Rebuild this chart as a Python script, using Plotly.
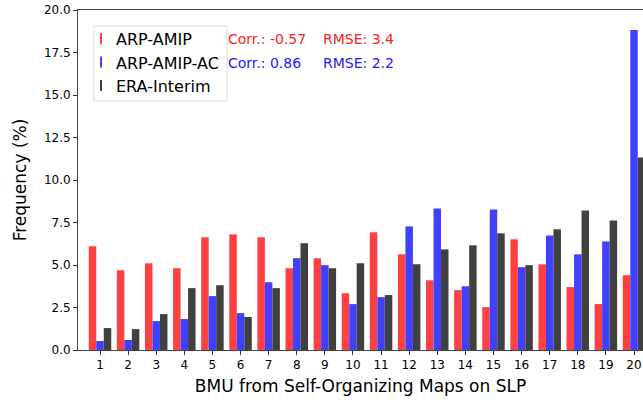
import plotly.graph_objects as go

categories = list(range(1, 21))
arp_amip = [6.1, 4.69, 5.1, 4.81, 6.63, 6.8, 6.63, 4.81, 5.4, 3.34,
            6.92, 5.63, 4.1, 3.52, 2.52, 6.51, 5.04, 3.7, 2.7, 4.4]
arp_amip_ac = [0.53, 0.59, 1.7, 1.82, 3.17, 2.17, 3.99, 5.4, 4.99, 2.7,
               3.11, 7.27, 8.33, 3.75, 8.27, 4.87, 6.74, 5.63, 6.39, 18.83]
era_interim = [1.29, 1.23, 2.11, 3.64, 3.81, 1.94, 3.64, 6.28, 4.81, 5.1,
               3.23, 5.04, 5.92, 6.16, 6.86, 4.99, 7.1, 8.21, 7.62, 11.32]
series_names = ["ARP-AMIP", "ARP-AMIP-AC", "ERA-Interim"]
series_values = [arp_amip, arp_amip_ac, era_interim]
colors = ["#ff4040", "#4040ff", "#404040"]
y_ticks = [0, 2.5, 5, 7.5, 10, 12.5, 15, 17.5, 20]
stats = [("Corr.: -0.57", "RMSE: 3.4", "#ff2020"),
         ("Corr.: 0.86", "RMSE: 2.2", "#2020ff")]

FONT = "DejaVu Sans"
L, R, T, B = 78, 643, 10, 350  # plot area in pixels
W, H = R - L, B - T


def px(x):
    return (x - L) / W


def py(y):
    return (B - y) / H


fig = go.Figure()
for name, vals, col in zip(series_names, series_values, colors):
    fig.add_trace(go.Bar(x=categories, y=vals, name=name, marker_color=col,
                         marker_line_width=0, showlegend=False))

fig.update_layout(
    width=643, height=400,
    margin=dict(l=L, r=643 - R, t=T, b=400 - B, autoexpand=False),
    plot_bgcolor="white", paper_bgcolor="white",
    barmode="group", bargap=0.2, bargroupgap=0,
    font=dict(family=FONT, color="black", size=12),
    showlegend=False,
)
fig.update_xaxes(range=[0.217, 20.32], tickmode="array", tickvals=categories,
                 ticktext=[str(c) for c in categories], automargin=False,
                 showline=True, linecolor="#444", linewidth=1, mirror=True,
                 ticks="outside", ticklen=4, tickcolor="#333", showgrid=False,
                 zeroline=False, tickfont=dict(size=12),
                 title=dict(text="BMU from Self-Organizing Maps on SLP",
                            font=dict(size=17), standoff=8))
fig.update_yaxes(range=[0, 20], tickvals=y_ticks, automargin=False,
                 ticktext=[f"{v:.1f}" for v in y_ticks],
                 showline=True, linecolor="#444", linewidth=1,
                 ticks="outside", ticklen=4, tickcolor="#333", showgrid=False,
                 zeroline=False, tickfont=dict(size=12),
                 title=dict(text="Frequency (%)", font=dict(size=17), standoff=12))

# custom legend (matplotlib style thin handles)
fig.add_shape(type="rect", xref="paper", yref="paper",
              x0=px(94), x1=px(227), y0=py(26), y1=py(101),
              fillcolor="white", line=dict(color="#dddddd", width=1), layer="above")
rows = [38.5, 62, 85.5]
for name, col, ry in zip(series_names, colors, rows):
    fig.add_shape(type="line", xref="paper", yref="paper",
                  x0=px(101), x1=px(101), y0=py(ry - 5.5), y1=py(ry + 5.5),
                  line=dict(color=col, width=2), layer="above")
    fig.add_annotation(xref="paper", yref="paper", x=px(114), y=py(ry + 1),
                       text=name, showarrow=False, xanchor="left", yanchor="middle",
                       font=dict(family=FONT, size=16, color="black"))

for i, (c_txt, r_txt, col) in enumerate(stats):
    ypix = 39 + i * 24
    fig.add_annotation(xref="paper", yref="paper", x=px(226), y=py(ypix),
                       text=c_txt, showarrow=False, xanchor="left", yanchor="middle",
                       font=dict(family=FONT, size=14, color=col))
    fig.add_annotation(xref="paper", yref="paper", x=px(321), y=py(ypix),
                       text=r_txt, showarrow=False, xanchor="left", yanchor="middle",
                       font=dict(family=FONT, size=14, color=col))

fig.write_html("out.html", config={"displayModeBar": False},
               post_script="document.body.style.margin='0';document.body.style.overflow='hidden';")
